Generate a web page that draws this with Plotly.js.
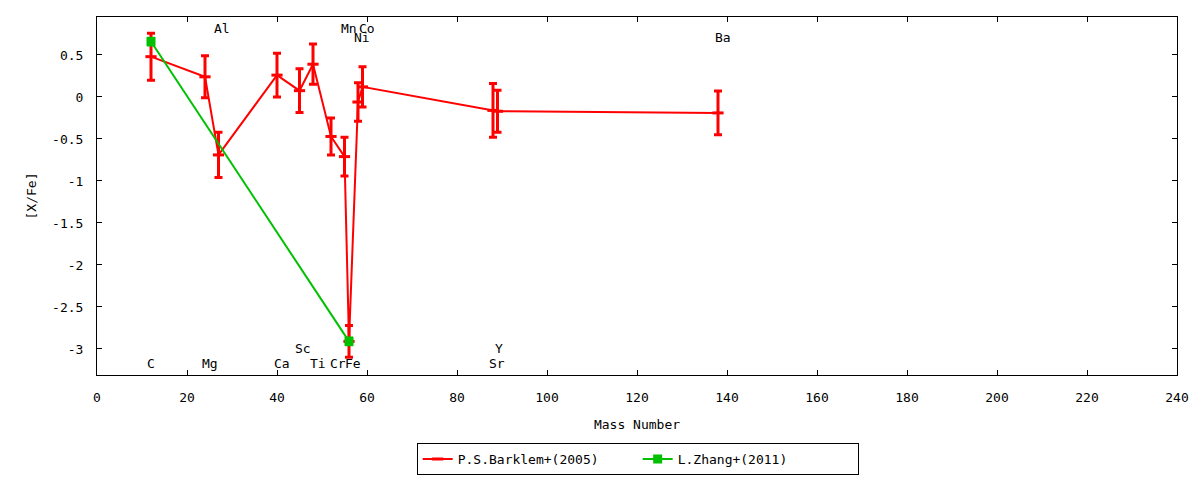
<!DOCTYPE html>
<html>
<head>
<meta charset="utf-8">
<script src="https://cdn.plot.ly/plotly-3.0.1.min.js"></script>
<style>
  body { margin: 0; background: #fff; }
  #graph { width: 1200px; height: 480px; }
</style>
</head>
<body>
<div id="graph"></div>
<script>
// Barklem+(2005): mass number, [X/Fe], error
var barklemMass = [12, 24, 27, 40, 45, 48, 52, 55, 56, 58, 59, 88, 89, 138]
var barklemVal  = [0.48, 0.24, -0.69, 0.26, 0.075, 0.39, -0.47, -0.71, -2.91, -0.06, 0.12, -0.16, -0.17, -0.19]
var barklemErr  = [0.28, 0.25, 0.27, 0.26, 0.26, 0.24, 0.22, 0.23, 0.19, 0.23, 0.24, 0.32, 0.25, 0.26]

// Zhang+(2011)
var zhangMass = [12, 56]
var zhangVal  = [0.66, -2.91]
var zhangErr  = [0.04, 0.04]

// element labels
var labelNames = ['C', 'Mg', 'Al', 'Ca', 'Sc', 'Ti', 'Cr', 'Fe', 'Mn', 'Co', 'Ni', 'Y', 'Sr', 'Ba']
var labelX     = [12, 25.1, 27.8, 41.1, 45.8, 49.1, 53.6, 56.9, 56.0, 60.0, 58.9, 89.3, 88.9, 139.1]
var labelY     = [-3.17, -3.17, 0.82, -3.17, -3.0, -3.17, -3.17, -3.17, 0.82, 0.82, 0.71, -3.0, -3.17, 0.71]

var yTickVals = [0.5, 0, -0.5, -1, -1.5, -2, -2.5, -3]
var yTickText = ['0.5', '0', '-0.5', '-1', '-1.5', '-2', '-2.5', '-3']
var xTickVals = [0, 20, 40, 60, 80, 100, 120, 140, 160, 180, 200, 220, 240]

var font = {family: 'DejaVu Sans Mono', size: 13, color: '#000'}

var red = {
    x: barklemMass,
    y: barklemVal,
    name: 'P.S.Barklem+(2005)',
    mode: 'lines+markers',
    type: 'scatter',
    line: {color: '#ff0000', width: 2},
    marker: {symbol: 'line-ew', size: 8, line: {color: '#ff0000', width: 3}},
    error_y: {type: 'data', array: barklemErr, visible: true, color: '#ff0000', thickness: 3, width: 4}
}

var green = {
    x: zhangMass,
    y: zhangVal,
    name: 'L.Zhang+(2011)',
    mode: 'lines+markers',
    type: 'scatter',
    line: {color: '#00c000', width: 2},
    marker: {symbol: 'square', size: 9, color: '#00c000'},
    error_y: {type: 'data', array: zhangErr, visible: true, color: '#00c000', thickness: 3, width: 4}
}

var annotations = []
for (var i = 0; i < labelNames.length; i++) {
    annotations.push({
        x: labelX[i], y: labelY[i], xref: 'x', yref: 'y',
        text: labelNames[i], showarrow: false, font: font
    })
}

var layout = {
    width: 1200,
    height: 480,
    margin: {l: 97, r: 23, t: 17, b: 105, autoexpand: false},
    paper_bgcolor: '#fff',
    plot_bgcolor: '#fff',
    font: font,
    showlegend: true,
    legend: {
        orientation: 'h',
        x: 0.296, xanchor: 'left',
        y: -0.19, yanchor: 'top',
        bordercolor: '#000', borderwidth: 1,
        entrywidth: 175, entrywidthmode: 'pixels',
        font: font
    },
    xaxis: {
        range: [0, 240],
        tickvals: xTickVals,
        ticks: 'inside', ticklen: 5, tickcolor: '#000',
        showline: true, linecolor: '#000', linewidth: 1, mirror: 'ticks',
        showgrid: false, zeroline: false,
        ticklabelstandoff: 10,
        title: {text: 'Mass Number', font: font, standoff: 16}
    },
    yaxis: {
        range: [-3.31, 0.952],
        tickvals: yTickVals, ticktext: yTickText,
        ticks: 'inside', ticklen: 5, tickcolor: '#000',
        showline: true, linecolor: '#000', linewidth: 1, mirror: 'ticks',
        showgrid: false, zeroline: false,
        ticklabelstandoff: 10,
        title: {text: '[X/Fe]', font: font, standoff: 12}
    },
    annotations: annotations
}

Plotly.newPlot('graph', [red, green], layout, {staticPlot: true})
</script>
</body>
</html>
